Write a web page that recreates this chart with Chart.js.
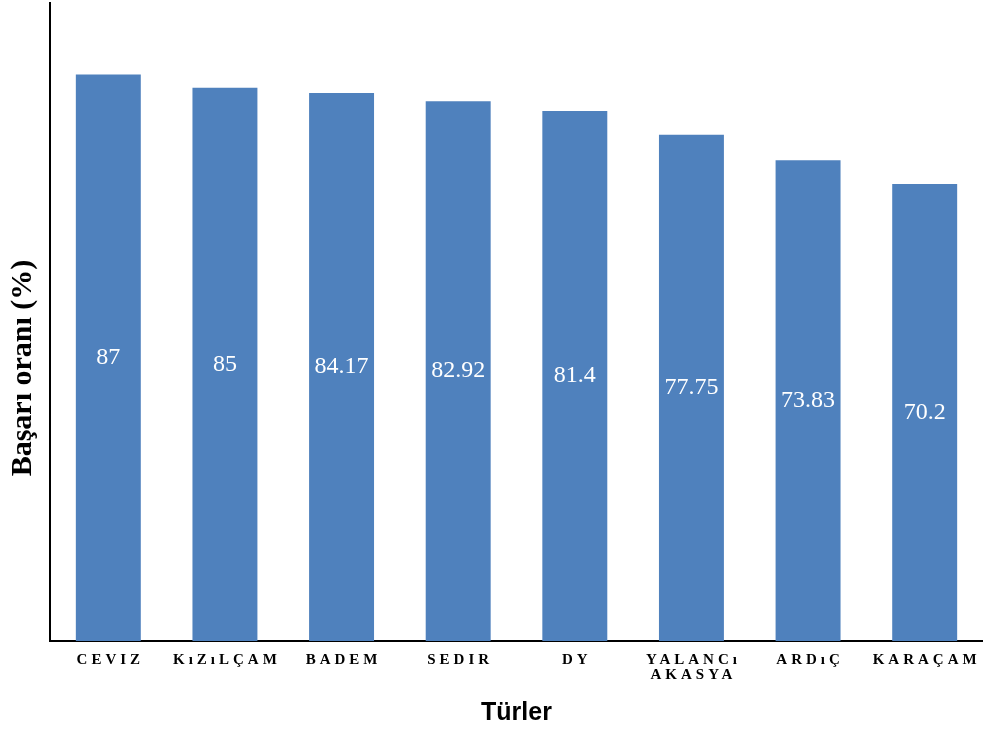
<!DOCTYPE html>
<html>
<head>
<meta charset="utf-8">
<script src="https://cdn.jsdelivr.net/npm/chart.js@4.4.1/dist/chart.umd.min.js"></script>
<style>
  html, body { margin: 0; padding: 0; background: #ffffff; }
  #wrap { width: 983px; height: 733px; }
</style>
</head>
<body>
<div id="wrap"><canvas id="c" width="983" height="733"></canvas></div>
<script>
// Species and their success rates (%)
const species = ['CEVIZ', 'KıZıLÇAM', 'BADEM', 'SEDIR', 'DY', ['YALANCı', 'AKASYA'], 'ARDıÇ', 'KARAÇAM'];
const successRate = [87, 85, 84.17, 82.92, 81.4, 77.75, 73.83, 70.2];
const yAxisTitle = 'Başarı oranı (%)';
const xAxisTitle = 'Türler';

// Category axis whose tick labels are drawn letter-spaced
class SpacedCategoryScale extends Chart.CategoryScale {
  drawLabels(area) {
    const ctx = this.ctx;
    ctx.save();
    ctx.letterSpacing = '4px';
    ctx.translate(2, 0);
    super.drawLabels(area);
    ctx.restore();
  }
}
SpacedCategoryScale.id = 'spacedCategory';
SpacedCategoryScale.defaults = Chart.CategoryScale.defaults;
Chart.register(SpacedCategoryScale);

// Value written in the middle of each bar
const barValueLabels = {
  id: 'barValueLabels',
  afterDatasetsDraw(chart) {
    const ctx = chart.ctx;
    const meta = chart.getDatasetMeta(0);
    ctx.save();
    ctx.fillStyle = '#ffffff';
    ctx.font = '24px "Liberation Serif", "Times New Roman", serif';
    ctx.textAlign = 'center';
    ctx.textBaseline = 'middle';
    meta.data.forEach((bar, i) => {
      const v = chart.data.datasets[0].data[i];
      ctx.fillText(String(v), bar.x, (bar.y + bar.base) / 2);
    });
    ctx.restore();
  }
};

// Vertical axis title
const yTitle = {
  id: 'yTitle',
  afterDraw(chart) {
    const ctx = chart.ctx;
    ctx.save();
    ctx.translate(23, 368);
    ctx.rotate(-Math.PI / 2);
    ctx.fillStyle = '#000000';
    ctx.font = 'bold 30px "Liberation Serif", "Times New Roman", serif';
    ctx.textAlign = 'center';
    ctx.textBaseline = 'middle';
    ctx.fillText(yAxisTitle, 0, 0);
    ctx.restore();
  }
};

new Chart(document.getElementById('c'), {
  type: 'bar',
  data: {
    labels: species,
    datasets: [{
      data: successRate,
      backgroundColor: '#4f81bd',
      borderWidth: 0,
      barPercentage: 0.557,
      categoryPercentage: 1.0
    }]
  },
  options: {
    responsive: false,
    animation: false,
    layout: { padding: { left: 50, top: 3, right: 0, bottom: 5 } },
    plugins: { legend: { display: false }, tooltip: { enabled: false } },
    scales: {
      x: {
        type: 'spacedCategory',
        grid: { display: false, drawTicks: false },
        border: { display: true, color: '#000000', width: 2 },
        ticks: {
          color: '#000000',
          padding: 12,
          maxRotation: 0,
          autoSkip: false,
          font: { family: '"Liberation Serif", "Times New Roman", serif', size: 15, weight: 'bold', lineHeight: 1 }
        },
        title: {
          display: true,
          text: xAxisTitle,
          color: '#000000',
          padding: { top: 3, bottom: 0 },
          font: { family: '"Liberation Sans", Arial, sans-serif', size: 25, weight: 'bold', lineHeight: 1.2 }
        }
      },
      y: {
        min: 0,
        max: 98,
        grid: { display: false, drawTicks: false },
        border: { display: true, color: '#000000', width: 2 },
        ticks: { display: false }
      }
    }
  },
  plugins: [barValueLabels, yTitle]
});
</script>
</body>
</html>
